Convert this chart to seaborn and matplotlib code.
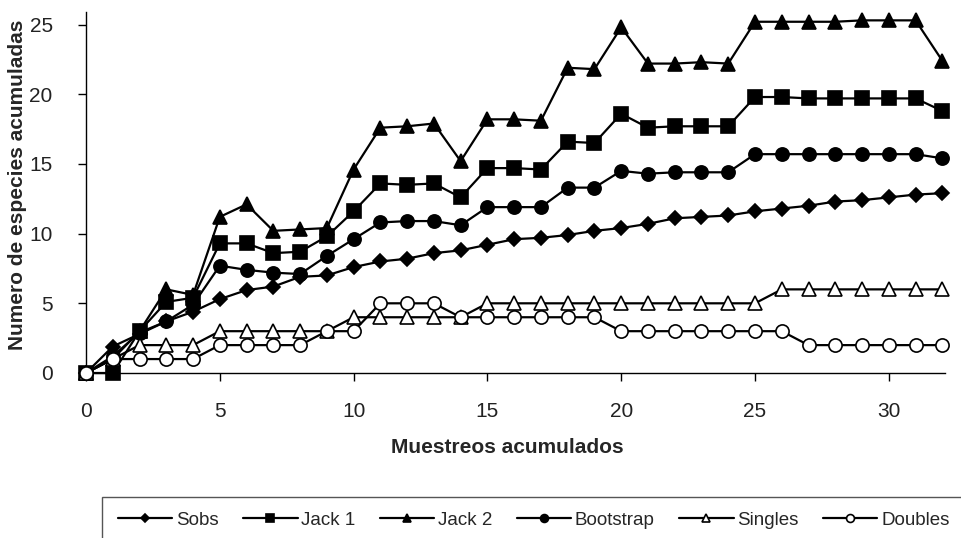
import matplotlib
matplotlib.use("Agg")
import matplotlib.pyplot as plt
from matplotlib.patches import Rectangle
import seaborn as sns
import pandas as pd

# Datos (curvas de acumulacion de especies)
muestreos = list(range(33))
sobs = [0, 1.9, 2.8, 3.7, 4.4, 5.3, 5.95, 6.2, 6.9, 7.0, 7.6, 8.0, 8.2, 8.6, 8.8, 9.2, 9.6,
        9.7, 9.9, 10.2, 10.4, 10.7, 11.1, 11.2, 11.3, 11.6, 11.8, 12.0, 12.3, 12.4, 12.6, 12.8, 12.9]
jack1 = [0, 0, 3.0, 5.1, 5.4, 9.3, 9.3, 8.6, 8.7, 9.8, 11.6, 13.6, 13.5, 13.6, 12.6, 14.7, 14.7,
         14.6, 16.6, 16.5, 18.6, 17.6, 17.7, 17.7, 17.7, 19.8, 19.8, 19.7, 19.7, 19.7, 19.7, 19.7, 18.8]
jack2 = [0, 1.0, 3.0, 6.0, 5.6, 11.2, 12.1, 10.2, 10.3, 10.4, 14.6, 17.6, 17.7, 17.9, 15.2, 18.2, 18.2,
         18.1, 21.9, 21.8, 24.8, 22.2, 22.2, 22.3, 22.2, 25.2, 25.2, 25.2, 25.2, 25.3, 25.3, 25.3, 22.4]
bootstrap = [0, 1.2, 2.9, 3.7, 4.9, 7.7, 7.4, 7.2, 7.1, 8.4, 9.6, 10.8, 10.9, 10.9, 10.6, 11.9, 11.9,
             11.9, 13.3, 13.3, 14.5, 14.3, 14.4, 14.4, 14.4, 15.7, 15.7, 15.7, 15.7, 15.7, 15.7, 15.7, 15.4]
singles = [0, 1, 2, 2, 2, 3, 3, 3, 3, 3, 4, 4, 4, 4, 4, 5, 5,
           5, 5, 5, 5, 5, 5, 5, 5, 5, 6, 6, 6, 6, 6, 6, 6]
doubles = [0, 1, 1, 1, 1, 2, 2, 2, 2, 3, 3, 5, 5, 5, 4, 4, 4,
           4, 4, 4, 3, 3, 3, 3, 3, 3, 3, 2, 2, 2, 2, 2, 2]

nombres = ["Sobs", "Jack 1", "Jack 2", "Bootstrap", "Singles", "Doubles"]
series = [sobs, jack1, jack2, bootstrap, singles, doubles]
marcadores = ["D", "s", "^", "o", "^", "o"]
rellenos = ["black", "black", "black", "black", "white", "white"]
tamanos = [7, 9.5, 9.5, 9.5, 9.5, 9.5]

sns.set_style("ticks")
plt.rcParams["font.family"] = ["Liberation Sans", "DejaVu Sans"]

fig = plt.figure(figsize=(9.61, 5.38), dpi=100)
ax = fig.add_axes([86 / 961, 1 - 373 / 538, 859 / 961, 361 / 538])

for i, (nombre, valores) in enumerate(zip(nombres, series)):
    df = pd.DataFrame({"x": muestreos, "y": valores})
    sns.lineplot(data=df, x="x", y="y", ax=ax, color="black", linewidth=1.6,
                 marker=marcadores[i], markersize=tamanos[i], markerfacecolor=rellenos[i],
                 markeredgecolor="black", markeredgewidth=1.2, label=nombre,
                 zorder=3 + i, clip_on=False)

ax.set_xlim(0, 32.1)
ax.set_ylim(0, 25.9)
ax.set_xticks(range(0, 31, 5))
ax.set_yticks(range(0, 26, 5))
sns.despine(ax=ax)
for lado in ["left", "bottom"]:
    ax.spines[lado].set_linewidth(1.0)
    ax.spines[lado].set_color("black")

ax.tick_params(axis="both", direction="out", length=6, width=1, colors="black",
               labelsize=15, labelcolor="#222222")
ax.tick_params(axis="x", pad=15)
ax.tick_params(axis="y", pad=18)

ax.set_xlabel("Muestreos acumulados", fontsize=15, fontweight="bold")
ax.set_ylabel("Numero de especies acumuladas", fontsize=15, fontweight="bold")
ax.xaxis.set_label_coords(0.491, -0.205)
ax.xaxis.label.set_va("center")
ax.yaxis.set_label_coords(-0.080, 0.521)
ax.yaxis.label.set_va("center")

# Leyenda: el recuadro del original sale por la derecha y por abajo
handles, labels = ax.get_legend_handles_labels()
ax.get_legend().remove()
fig.legend(handles, labels, loc="center left", bbox_to_anchor=(118 / 961, 1 - 520 / 538),
           ncol=6, frameon=False, fontsize=13.5, markerscale=0.6,
           handlelength=2.9, handletextpad=0.2, columnspacing=1.3, borderpad=0,
           borderaxespad=0)
marco = Rectangle((102 / 961, -10 / 538), 880 / 961, (538 - 497 + 10) / 538,
                  transform=fig.transFigure, fill=False, edgecolor="#555555",
                  linewidth=1.0, clip_on=False)
fig.patches.append(marco)

fig.savefig("out.png", dpi=100)
